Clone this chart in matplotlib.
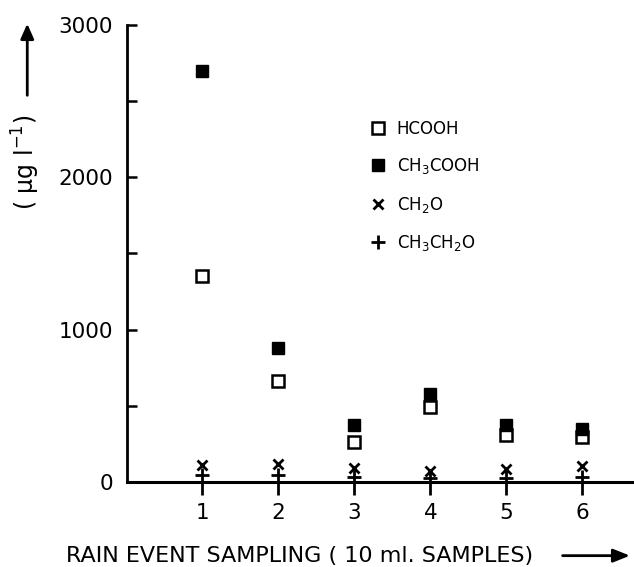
import matplotlib.pyplot as plt

plt.rcParams['font.family'] = 'DejaVu Sans'
plt.rcParams['mathtext.default'] = 'regular'

# data
samples = [1, 2, 3, 4, 5, 6]
hcooh = [1350, 665, 265, 490, 310, 295]
ch3cooh = [2700, 880, 375, 575, 375, 345]
ch2o = [112, 120, 92, 75, 85, 105]
ch3ch2o = [45, 45, 33, 25, 28, 33]

fig = plt.figure(figsize=(6.34, 5.67), dpi=100)
ax = fig.add_axes([0.2003, 0.15, 0.80, 0.806])

ax.plot(samples, hcooh, 's', ms=8.5, mfc='white', mec='black', mew=1.8, label='HCOOH')
ax.plot(samples, ch3cooh, 's', ms=9, mfc='black', mec='black', label='CH$_3$COOH')
ax.plot(samples, ch2o, 'x', ms=7, mec='black', mew=2, label='CH$_2$O')
ax.plot(samples, ch3ch2o, '+', ms=10, mec='black', mew=2, label='CH$_3$CH$_2$O')

ax.set_xlim(0.01, 6.68)
ax.set_ylim(0, 3000)
ax.spines['top'].set_visible(False)
ax.spines['right'].set_visible(False)
ax.spines['left'].set_linewidth(2)
ax.spines['bottom'].set_linewidth(2.2)

ax.set_xticks(samples)
ax.set_yticks([0, 1000, 2000, 3000])
ax.set_yticks([500, 1500, 2500], minor=True)
ax.tick_params(axis='y', which='both', direction='in', length=7, width=1.8, labelsize=15.5, pad=10)
ax.tick_params(axis='x', direction='out', length=9, width=2, labelsize=15.5, pad=6)

leg = ax.legend(loc='upper left', bbox_to_anchor=(0.446, 0.825), frameon=False,
                fontsize=12, handletextpad=0.5, labelspacing=1.1, handlelength=1.2)

# axis titles with arrows
fig.text(0.041, 0.713, '( µg l$^{-1}$)', rotation=90, ha='center', va='center',
         fontsize=17)
fig.add_artist(plt.matplotlib.patches.FancyArrowPatch(
    (0.043, 0.827), (0.043, 0.963), transform=fig.transFigure,
    arrowstyle='-|>,head_length=9,head_width=4', color='black', lw=2))

fig.text(0.473, 0.02, 'RAIN EVENT SAMPLING ( 10 ml. SAMPLES)', ha='center', va='center',
         fontsize=16)
fig.add_artist(plt.matplotlib.patches.FancyArrowPatch(
    (0.883, 0.02), (0.998, 0.02), transform=fig.transFigure,
    arrowstyle='-|>,head_length=10,head_width=4', color='black', lw=2))

fig.savefig('out.png', dpi=100)
